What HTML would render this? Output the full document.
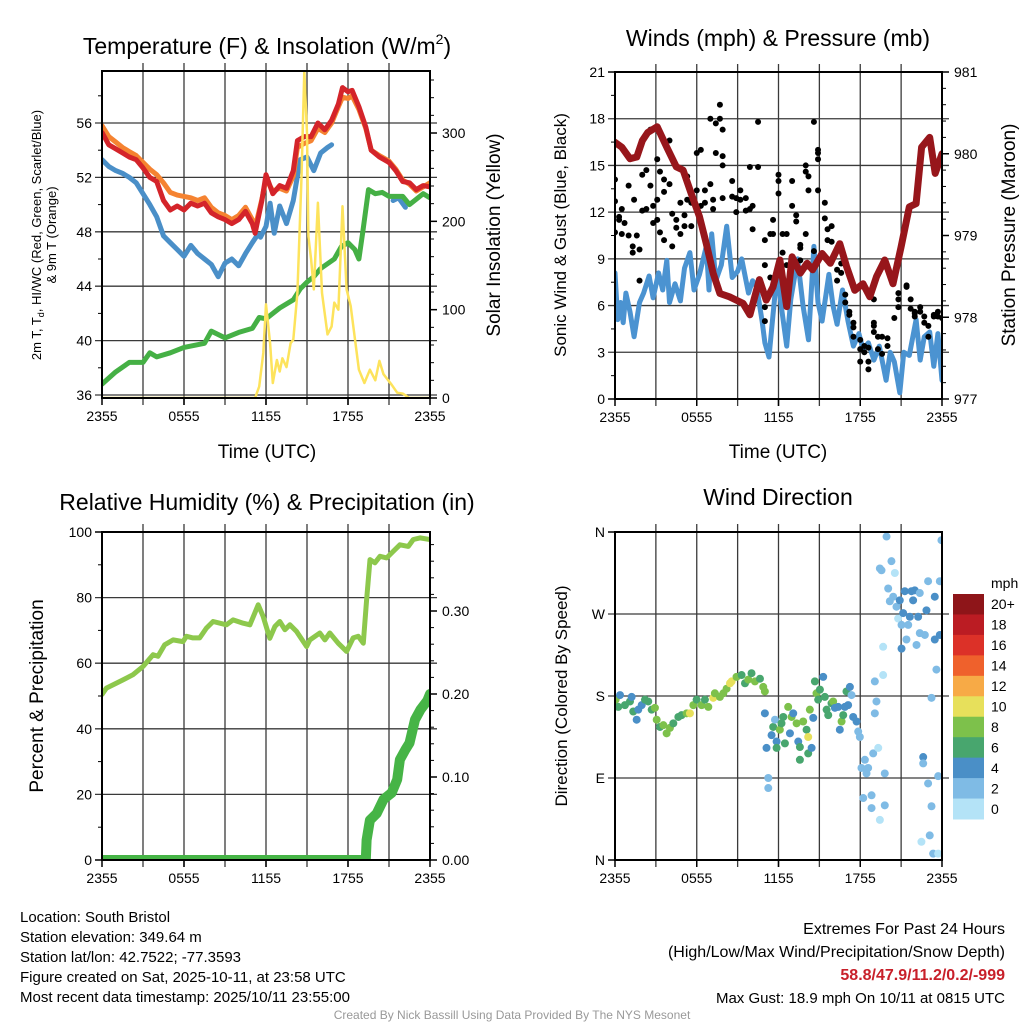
<!DOCTYPE html>
<html><head><meta charset="utf-8"><title>NYS Mesonet South Bristol</title>
<style>
html,body{margin:0;padding:0;background:#fff;}
svg{display:block;font-family:"Liberation Sans",Arial,sans-serif;}
</style></head>
<body>
<svg id="chart" xmlns="http://www.w3.org/2000/svg" width="1024" height="1024" viewBox="0 0 1024 1024">
<defs>
<clipPath id="c1"><rect x="102" y="71" width="328" height="327"/></clipPath>
<clipPath id="c2"><rect x="615" y="72" width="327" height="327"/></clipPath>
<clipPath id="c3"><rect x="102" y="532" width="328" height="328"/></clipPath>
<clipPath id="c4"><rect x="615" y="532" width="327" height="328"/></clipPath>
</defs>
<rect x="0" y="0" width="1024" height="1024" fill="#fff"/>
<text x="267" y="54" font-size="23" text-anchor="middle">Temperature (F) &amp; Insolation (W/m<tspan font-size="14" dy="-10">2</tspan><tspan dy="10">)</tspan></text>
<text x="778" y="46" font-size="23" text-anchor="middle">Winds (mph) &amp; Pressure (mb)</text>
<text x="267" y="510" font-size="23" text-anchor="middle">Relative Humidity (%) &amp; Precipitation (in)</text>
<text x="778" y="505" font-size="23" text-anchor="middle">Wind Direction</text>
<text x="267" y="458" font-size="19" text-anchor="middle">Time (UTC)</text>
<text x="778" y="458" font-size="19" text-anchor="middle">Time (UTC)</text>
<text transform="translate(41,235) rotate(-90)" font-size="13" text-anchor="middle">2m T, T<tspan font-size="9" dy="3">d</tspan><tspan dy="-3">, HI/WC (Red, Green, Scarlet/Blue)</tspan></text>
<text transform="translate(56,235) rotate(-90)" font-size="13" text-anchor="middle">&amp; 9m T (Orange)</text>
<text transform="translate(500,235) rotate(-90)" font-size="19" text-anchor="middle">Solar Insolation (Yellow)</text>
<text transform="translate(566,235) rotate(-90)" font-size="17" text-anchor="middle">Sonic Wind &amp; Gust (Blue, Black)</text>
<text transform="translate(1015,235) rotate(-90)" font-size="19" text-anchor="middle">Station Pressure (Maroon)</text>
<text transform="translate(43,696) rotate(-90)" font-size="19" text-anchor="middle">Percent &amp; Precipitation</text>
<text transform="translate(567,696) rotate(-90)" font-size="17" text-anchor="middle">Direction (Colored By Speed)</text>
<g font-size="15">
<text x="20" y="922">Location: South Bristol</text>
<text x="20" y="942">Station elevation: 349.64 m</text>
<text x="20" y="962">Station lat/lon: 42.7522; -77.3593</text>
<text x="20" y="982">Figure created on Sat, 2025-10-11, at 23:58 UTC</text>
<text x="20" y="1002">Most recent data timestamp: 2025/10/11 23:55:00</text>
</g>
<g font-size="16" text-anchor="end">
<text x="1005" y="934">Extremes For Past 24 Hours</text>
<text x="1005" y="957">(High/Low/Max Wind/Precipitation/Snow Depth)</text>
<text x="1005" y="980" fill="#c8202a" font-weight="bold">58.8/47.9/11.2/0.2/-999</text>
<text x="1005" y="1003" font-size="15">Max Gust: 18.9 mph On 10/11 at 0815 UTC</text>
</g>
<text x="512" y="1019" font-size="12" fill="#999" text-anchor="middle">Created By Nick Bassill Using Data Provided By The NYS Mesonet</text>
<g id="plots"></g>
</svg>
<script>
// ---------- DATA ----------
const xTickLabels = ["2355","0555","1155","1755","2355"];
const tempTicks = [36,40,44,48,52,56];
const solarTicks = [0,100,200,300];
const windTicks = [0,3,6,9,12,15,18,21];
const presTicks = [977,978,979,980,981];
const rhTicks = [0,20,40,60,80,100];
const precipTicks = [0,0.1,0.2,0.3];
const precipTickLabels = ["0.00","0.10","0.20","0.30"];
const dirTicks = [0,90,180,270,360];
const dirTickLabels = ["N","E","S","W","N"];

const tempHours = [0,0.5,1,1.5,2,2.5,3,3.5,4,4.5,5,5.5,6,6.5,7,7.5,8,8.5,9,9.5,10,10.5,11,11.2,11.7,12,12.5,13,13.5,14,14.3,14.8,15.3,15.8,16.3,16.8,17.3,17.6,18,18.3,18.8,19.3,19.7,20.3,21,21.5,22,22.5,23,23.5,24];
const redTemp = [55.3,54.4,54.1,53.8,53.5,53.3,52.7,52.0,51.7,50.3,49.6,49.9,49.6,50.1,49.9,50.1,49.4,49.1,48.9,48.6,48.9,49.5,48.6,47.9,50.3,52.2,50.8,51.4,51.2,52.5,54.7,55.0,55.0,56.0,55.5,56.2,57.4,58.6,58.3,58.4,57.2,55.7,54.0,53.5,53.1,52.5,51.7,51.6,51.1,51.4,51.3];
const orangeTemp = [55.8,55.0,54.6,54.2,53.9,53.6,53.1,52.6,52.2,51.6,50.9,50.7,50.6,50.5,50.3,50.5,49.8,49.4,49.2,48.9,49.2,49.8,48.9,48.3,50.4,51.9,51.0,51.2,51.0,52.1,54.2,54.5,54.7,55.6,55.3,56.0,57.2,57.9,57.8,58.0,57.0,55.6,54.0,53.6,53.2,52.6,51.8,51.5,51.0,51.3,51.6];
const dewHours = [0,0.5,1,1.5,2,2.5,3,3.5,4,4.5,5,5.5,6,6.5,7,7.5,8,8.5,9,9.5,10,10.5,11,11.4,11.5,11.6,12,12.3,12.6,13,13.5,14,14.5,15,15.5,16,16.5,16.8,17,21.3,21.7,22.2];
const dewTemp = [53.3,52.8,52.5,52.3,52.0,51.6,50.8,50.0,49.1,47.7,47.2,46.7,46.2,47.0,46.4,46.0,45.6,44.7,45.7,46.0,45.5,46.4,47.2,47.8,NaN,47.6,48.4,50.1,47.9,49.9,48.6,50.3,53.3,53.5,52.5,53.8,54.2,54.4,NaN,50.3,50.5,49.8];
const hiHours = [0,1,2,3,3.5,4,5,6,7,7.5,8,9,10,11,11.5,12,13,14,14.5,15,15.5,16,17,17.5,18,18.5,18.8,19.1,19.5,20,20.5,21,22,22.5,23,23.5,24];
const hiTemp = [36.8,37.7,38.4,38.4,39.1,38.8,39.1,39.5,39.7,39.8,40.7,40.2,40.6,40.9,41.7,41.6,42.4,43.0,43.8,44.3,44.7,45.3,46.0,46.9,47.2,46.7,46.0,48.1,51.1,50.8,50.9,50.6,50.6,50.0,50.4,50.8,50.5];
const solarHours = [0,11.2,11.5,11.8,12,12.3,12.5,12.8,13,13.2,13.5,13.8,14,14.3,14.6,14.8,15,15.1,15.3,15.5,15.8,16.1,16.5,16.8,17,17.3,17.6,17.9,18.2,18.8,19.2,19.6,20,20.3,20.6,21.2,21.6,22,22.5,24];
const solarWm2 = [0,0,13,51,106,62,17,43,30,45,35,62,66,119,250,370,300,183,157,123,221,119,72,81,108,100,217,123,104,32,17,32,20,42,27,15,6,5,0,0];

const presHours = [0,0.5,1.1,1.6,2,2.4,3.1,3.8,4.5,5,5.6,6.2,6.7,7.2,7.7,8.4,8.9,9.4,9.9,10.6,11.1,11.6,12.1,12.6,13,13.6,14.1,14.5,15.2,15.8,16.5,17,17.6,18.2,18.7,19.2,19.8,20.4,21,21.6,22.1,22.5,23.1,23.5,24];
const presMb = [980.14,980.08,979.94,979.96,980.16,980.26,980.33,980.08,979.84,979.8,979.51,979.23,978.9,978.54,978.29,978.25,978.21,978.17,978.03,978.46,978.21,978.37,978.7,978.13,978.74,978.54,978.66,978.58,978.78,978.66,978.9,978.62,978.33,978.41,978.25,978.5,978.7,978.41,978.86,979.35,979.39,980.08,980.2,979.76,980.0];
const windHours = [0,0.2,0.4,0.6,0.8,1.1,1.4,1.8,2.1,2.5,2.8,3.2,3.5,3.8,4.0,4.4,4.8,5.1,5.5,5.8,6.2,6.7,6.9,7.1,7.4,7.8,8.2,8.6,9.0,9.3,9.8,10.1,10.4,10.8,11.0,11.3,11.6,11.9,12.2,12.6,12.9,13.4,13.8,14.2,14.6,14.9,15.2,15.7,16.0,16.3,16.7,17.1,17.5,17.9,18.2,18.6,19.0,19.4,19.9,20.2,20.5,20.9,21.2,21.6,22.1,22.4,22.7,23.1,23.4,23.7,24];
const windMph = [8.1,5.1,6.2,4.9,6.8,5.6,4.0,6.2,6.8,7.9,6.5,8.1,7.0,8.9,6.2,7.4,6.3,8.4,9.4,7.0,8.0,9.8,7.0,10.6,7.6,8.6,11.1,7.8,8.2,9.0,6.8,7.6,7.2,5.0,3.6,2.7,5.4,8.1,6.0,3.4,6.4,9.0,6.0,3.8,9.8,6.2,5.0,8.0,6.0,4.8,7.0,5.0,3.4,4.2,3.2,3.6,2.5,3.4,1.2,3.0,2.4,0.4,3.0,2.8,5.1,2.5,4.0,4.3,2.1,4.2,1.2];
const gustHours = [0,0,0,0.3,0.3,0.5,0.5,0.7,1.0,1.0,1.3,1.3,1.4,1.6,1.8,1.8,2.0,2.0,2.3,2.3,2.6,2.6,2.8,2.8,3.1,3.1,3.1,3.3,3.3,3.6,3.6,3.6,4.0,4.0,4.2,4.2,4.5,4.5,4.8,4.8,5.1,5.1,5.3,5.3,5.6,5.6,6.0,6.0,6.0,6.3,6.3,6.6,6.6,7.0,7.0,7.2,7.2,7.4,7.4,7.7,7.7,7.9,7.9,7.9,7.9,8.6,8.6,8.9,8.9,9.2,9.2,9.6,9.6,9.9,9.9,10.1,10.1,10.5,10.5,11.0,11.0,11.0,11.0,11.4,11.4,11.6,11.6,12.0,12.0,12.0,12.3,12.3,12.6,12.6,13.0,13.0,13.3,13.3,13.6,13.6,13.6,14.0,14.0,14.0,14.2,14.2,14.6,14.6,14.9,14.9,14.9,14.9,15.1,15.4,15.4,15.6,15.6,15.9,15.9,16.3,16.3,16.6,16.6,16.9,16.9,17.2,17.2,17.5,17.5,17.5,18.0,18.0,18.0,18.3,18.3,18.6,18.6,18.6,19.0,19.0,19.0,19.0,19.3,19.3,19.6,19.6,20.0,20.0,20.5,20.8,20.8,20.8,21.4,21.4,21.7,21.7,22.0,22.0,22.0,22.4,22.4,22.7,22.7,23.0,23.0,23.4,23.4,23.7,23.7,24];
const gustMph = [14.1,12.7,10.7,11.7,11.5,10.6,12.2,11.3,10.5,13.7,9.8,9.4,12.8,10.5,7.6,9.6,14.4,12.1,14.7,12.2,17.3,13.7,12.4,11.3,15.4,12.8,11.5,14.6,10.7,13.3,14.1,10.2,16.6,13.8,11.9,9.8,11.5,11.0,10.6,12.6,11.8,11.1,12.8,14.3,11.1,12.6,15.8,12.4,13.4,16.0,12.4,13.4,12.6,18.0,13.8,12.2,12.8,17.7,15.8,18.9,18.0,17.3,15.6,15.0,12.9,14.0,13.0,12.9,12.0,13.4,12.8,12.9,12.1,14.9,12.2,12.4,10.9,17.8,14.9,8.6,10.2,5.9,5.0,7.8,10.6,11.5,10.6,14.0,14.4,13.2,9.4,10.6,8.6,10.6,14.0,12.4,11.8,11.4,9.9,8.9,9.7,15.0,14.6,10.6,13.4,14.3,17.8,9.5,15.8,15.4,16.0,13.4,9.1,12.6,11.6,10.2,10.9,11.1,10.1,7.6,8.3,8.7,8.1,6.2,6.7,5.4,5.6,4.9,4.0,4.6,3.8,3.2,2.4,3.4,3.0,1.9,3.3,2.4,6.4,4.9,4.7,4.3,4.0,3.2,4.0,2.9,3.9,3.4,5.2,5.9,6.4,6.8,7.2,7.3,6.4,5.8,5.6,5.5,5.3,5.9,5.6,4.9,5.3,4.0,4.7,5.4,5.3,5.6,5.3,5.2];

const rhHours = [0,0.32,1.54,2.27,3,3.74,4.1,4.59,5.2,5.93,6.18,6.66,7.15,7.64,8.13,9.1,9.59,10.33,10.82,11.43,11.79,12.28,12.65,13.01,13.38,13.75,14.23,14.97,15.21,15.94,16.31,16.67,17.28,17.9,18.38,18.75,19.12,19.36,19.61,19.97,20.34,20.83,21.31,21.8,22.41,22.78,23.27,24];
const rhPct = [50.5,52.4,54.9,56.5,59.0,62.6,62.1,65.6,67.1,66.6,68.2,67.7,67.7,70.7,72.7,71.7,73.2,72.2,71.7,77.8,74.3,67.6,71.2,72.7,70.2,71.7,69.7,65.1,67.1,69.2,67.1,69.2,66.1,63.6,67.7,68.2,66.1,79.3,91.6,90.6,92.6,92.1,94.1,96.1,95.6,97.7,98.2,97.7];
const precipHours = [0,19.3,19.36,19.6,20.1,20.6,21.2,21.6,21.8,22.2,22.5,22.9,23.3,23.8,24];
const precipIn = [0,0,0.024,0.048,0.056,0.073,0.081,0.097,0.121,0.133,0.141,0.169,0.181,0.192,0.2];

const dirHours = [0.05,0.37,0.24,0.73,1.1,1.22,1.34,1.59,1.71,1.96,2.2,2.44,2.69,2.93,3.06,3.3,3.55,3.79,4.03,4.28,4.65,4.89,5.26,5.5,5.75,5.99,6.36,6.6,6.85,7.21,7.33,7.7,7.95,8.19,8.44,8.56,8.92,9.29,9.54,9.78,10.02,10.27,10.64,10.88,11.0,
11.0,11.25,11.25,11.12,11.49,11.61,11.74,11.86,11.86,12.1,12.22,12.35,12.47,12.71,12.84,12.96,13.08,13.33,13.45,13.57,13.57,13.81,14.06,14.18,14.18,14.3,14.43,14.55,
14.67,14.79,14.91,15.04,15.28,15.4,15.53,15.65,15.89,16.01,16.14,16.38,16.5,16.63,16.75,16.87,16.99,17.11,17.24,17.36,17.48,17.73,17.85,17.97,
18.09,18.22,18.34,18.46,18.58,18.83,18.83,18.95,19.32,19.07,19.19,19.07,19.44,19.68,19.68,19.8,19.8,19.44,19.56,19.93,20.05,20.29,20.17,20.42,20.54,20.66,20.78,20.9,21.03,21.03,21.15,21.27,21.39,21.52,21.64,21.76,21.88,22.0,22.13,22.25,22.37,22.37,22.49,22.62,22.62,22.74,22.86,22.98,22.98,23.1,23.23,23.23,23.35,23.47,23.47,23.59,23.72,23.84,23.84,23.96,23.72];
const dirDegrees = [176,181,168,170,174,179,163,154,165,170,176,174,165,167,154,146,148,139,145,150,157,159,161,161,170,176,170,176,168,178,183,179,183,188,194,196,201,203,194,198,205,196,199,190,185,
161,90,79,123,137,146,154,130,123,143,150,157,128,168,139,157,161,150,130,124,110,152,143,117,135,165,123,156,
196,183,176,187,201,179,165,159,172,174,167,168,143,152,159,168,185,170,190,181,157,152,141,135,
101,68,110,95,101,71,57,117,123,196,174,161,44,234,203,95,60,320,318,355,298,328,284,289,315,278,265,285,232,258,271,295,242,258,267,295,285,296,236,267,293,249,20,113,106,247,274,306,84,27,178,59,7,242,289,209,92,247,306,351,7];
const dirSpeeds = [8,4,6,6,6,4,6,4,4,4,6,6,6,8,8,6,8,8,8,6,6,6,8,10,8,6,8,6,8,10,8,8,8,8,10,10,8,6,6,8,6,8,6,8,8,
4,2,2,4,4,6,2,4,6,8,6,6,6,8,4,8,4,8,4,6,6,8,6,6,10,8,4,4,
6,8,6,6,4,6,6,6,6,8,4,4,4,8,6,4,6,4,4,2,4,4,2,2,
2,2,2,2,2,2,2,2,0,2,2,2,0,0,0,2,2,2,2,2,2,2,2,2,0,2,0,4,4,2,4,4,2,2,4,4,4,4,2,4,2,2,0,4,2,2,4,2,2,2,2,2,2,4,4,2,2,4,2,2,0];
const speedLevels = ["0","2","4","6","8","10","12","14","16","18","20+"];
const speedColors = ["#b4e3f7","#7fbbe5","#4a8fc7","#48a66e","#7dc14b","#e7e05b","#f7aa46","#ef612c","#dc3128","#bb1c23","#8e1519"];

// ---------- SCALES ----------
const P1={x0:102,x1:430,y0:71,y1:398}, P2={x0:615,x1:942,y0:72,y1:399}, P3={x0:102,x1:430,y0:532,y1:860}, P4={x0:615,x1:942,y0:532,y1:860};
const xL = h => P1.x0 + h/24*(P1.x1-P1.x0);
const xR = h => P2.x0 + h/24*(P2.x1-P2.x0);
const tempY = v => 395 - (v-36)*13.6;
const solarY = w => 398 - w*0.8833;
const mphY = m => 399 - m*15.571;
const presY = p => 399 - (p-977)*81.75;
const rhY = r => 860 - r*3.28;
const precipY = p => 860 - p*830;
const dirY = d => 860 - d*0.9111;

const NS="http://www.w3.org/2000/svg";
const root=document.getElementById('plots');
function mk(tag,parent,a){const e=document.createElementNS(NS,tag);for(const k in a)e.setAttribute(k,a[k]);parent.appendChild(e);return e;}
function pathD(hs,vs,fx,fy){let d="",pen=false;for(let i=0;i<hs.length;i++){if(isNaN(vs[i])){pen=false;continue;}d+=(pen?"L":"M")+fx(hs[i]).toFixed(1)+","+fy(vs[i]).toFixed(1);pen=true;}return d;}

function frame(P,name,yMajor,fyL,yLabels,yMinor,rMajor,fyR,rLabels,rMinor){
  const g=mk('g',root,{});
  
  
  // vertical grid every 3 h
  for(let h=3;h<24;h+=3){
    const fx = P.x0===102?xL:xR;
    const ln=mk('line',g,{x1:fx(h),x2:fx(h),y1:P.y0-8,y2:P.y1+7,stroke:'#3a3a3a','stroke-width':1.3});
    
    
  }
  for(let i=0;i<=4;i++){
    const fx = P.x0===102?xL:xR;
    const h=i*6;
    const tk=mk('line',g,{x1:fx(h),x2:fx(h),y1:P.y1,y2:P.y1+7,stroke:'#000','stroke-width':1.5});
    
    
    const t=mk('text',g,{x:fx(h),y:P.y1+23,'font-size':14,'text-anchor':'middle'});
    t.textContent=xTickLabels[i];
    
    
  }
  yMajor.forEach((v,i)=>{
    const y=fyL(v);
    if(y>P.y0+1 && y<P.y1-1){
      const ln=mk('line',g,{x1:P.x0-7,x2:P.x1+7,y1:y,y2:y,stroke:'#3a3a3a','stroke-width':1.3});
      
      
    } else {
      const ln=mk('line',g,{x1:P.x0-7,x2:P.x0,y1:y,y2:y,stroke:'#000','stroke-width':1.5});
      
      
    }
    const t=mk('text',g,{x:P.x0-10,y:y+5,'font-size':14,'text-anchor':'end'});
    t.textContent=yLabels[i];
    
    
  });
  yMinor.forEach(v=>{const y=fyL(v);
    const ln=mk('line',g,{x1:P.x0-4,x2:P.x0,y1:y,y2:y,stroke:'#000','stroke-width':1});
    
    });
  if(rMajor){
    rMajor.forEach((v,i)=>{const y=fyR(v);
      const ln=mk('line',g,{x1:P.x1,x2:P.x1+7,y1:y,y2:y,stroke:'#000','stroke-width':1.5});
      
      
      const t=mk('text',g,{x:P.x1+12,y:y+5,'font-size':14});
      t.textContent=rLabels[i];
      
      });
    rMinor.forEach(v=>{const y=fyR(v);
      const ln=mk('line',g,{x1:P.x1,x2:P.x1+4,y1:y,y2:y,stroke:'#000','stroke-width':1});
      
      });
  }
  return g;
}
function border(P,name){
  const r=mk('rect',root,{x:P.x0,y:P.y0,width:P.x1-P.x0,height:P.y1-P.y0,fill:'none',stroke:'#000','stroke-width':2});
  
  
}
function series(clip,hs,vs,fx,fy,color,w,name){
  const p=mk('path',root,{d:pathD(hs,vs,fx,fy),fill:'none',stroke:color,'stroke-width':w,'stroke-linejoin':'round','stroke-linecap':'round','clip-path':'url(#'+clip+')'});
  
  
}
const range=(a,b,s)=>{const o=[];for(let v=a;v<=b+1e-9;v+=s)o.push(+v.toFixed(3));return o;};

// Panel 1
frame(P1,'temperature',tempTicks,tempY,tempTicks.map(String),range(38,58,4),solarTicks,solarY,solarTicks.map(String),range(20,360,20).filter(v=>v%100));
series('c1',dewHours,dewTemp,xL,tempY,'#4a8fc8',5,'dewpoint-line');
series('c1',tempHours,orangeTemp,xL,tempY,'#f58331',5,'9m-temperature-line');
series('c1',tempHours,redTemp,xL,tempY,'#d4242a',5,'2m-temperature-line');
series('c1',hiHours,hiTemp,xL,tempY,'#45b045',5,'heat-index-line');
series('c1',solarHours,solarWm2,xL,solarY,'#fde35c',2.5,'solar-insolation-line');
border(P1,'temperature');

// Panel 2
frame(P2,'winds',windTicks,mphY,windTicks.map(String),range(1.5,19.5,3),presTicks,presY,presTicks.map(String),range(977.2,980.8,0.2).filter(v=>Math.abs(v-Math.round(v))>0.01));
series('c2',windHours,windMph,xR,mphY,'#4b93d1',5,'sonic-wind-line');
const gg=mk('g',root,{'clip-path':'url(#c2)'});


gustHours.forEach((h,i)=>{
  const c=mk('circle',gg,{cx:xR(h),cy:mphY(gustMph[i]),r:3,fill:'#000'});
  
  
});
series('c2',presHours,presMb,xR,presY,'#97161b',7,'pressure-line');
border(P2,'winds');

// Panel 3
frame(P3,'humidity',rhTicks,rhY,rhTicks.map(String),range(10,90,20),precipTicks,precipY,precipTickLabels,range(0.02,0.38,0.02).filter(v=>Math.abs(v*10-Math.round(v*10))>0.01));
series('c3',rhHours,rhPct,xL,rhY,'#8dc84c',5,'relative-humidity-line');
series('c3',precipHours,precipIn,xL,precipY,'#46b446',10,'precipitation-line');
border(P3,'humidity');

// Panel 4
frame(P4,'direction',dirTicks,dirY,dirTickLabels,[],null);
const dg=mk('g',root,{'clip-path':'url(#c4)'});


dirHours.forEach((h,i)=>{
  const idx=Math.min(10,Math.max(0,Math.floor(dirSpeeds[i]/2)));
  const c=mk('circle',dg,{cx:xR(h),cy:dirY(dirDegrees[i]),r:4,fill:speedColors[idx]});
  
  
});
border(P4,'direction');

// colorbar
const cb=mk('g',root,{});


const cbTop=594, cbH=225/11;
const unit=mk('text',cb,{x:991,y:588,'font-size':14});
unit.textContent='mph';


for(let i=0;i<11;i++){
  const k=10-i;
  const r=mk('rect',cb,{x:953,y:cbTop+i*cbH,width:31,height:cbH+0.5,fill:speedColors[k]});
  
  
  const t=mk('text',cb,{x:991,y:cbTop+i*cbH+cbH/2+5,'font-size':14});
  t.textContent=speedLevels[k];
  
  
}
</script>
</body></html>
